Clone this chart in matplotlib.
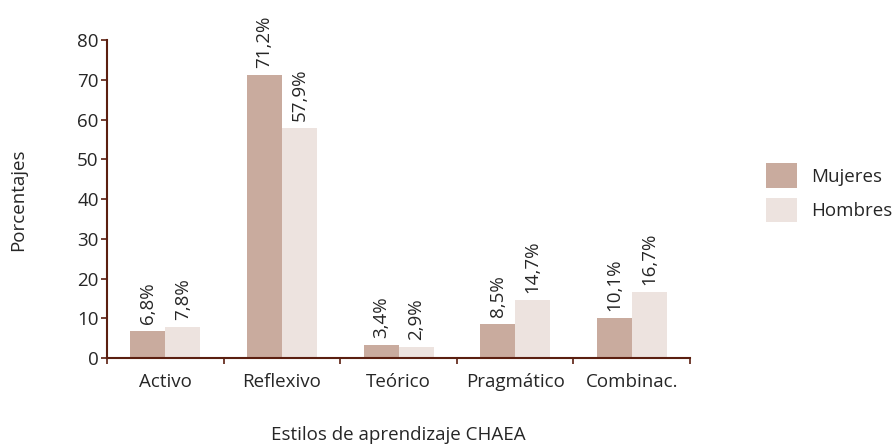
import matplotlib.pyplot as plt # get plot
import numpy as np # get arrays

plt.rcParams['font.family'] = ['Open Sans', 'DejaVu Sans']

categories = ['Activo', 'Reflexivo', 'Teórico', 'Pragmático', 'Combinac.']
mujeres = [6.8, 71.2, 3.4, 8.5, 10.1]
hombres = [7.8, 57.9, 2.9, 14.7, 16.7]
series_names = ['Mujeres', 'Hombres']
yticks = [0, 10, 20, 30, 40, 50, 60, 70, 80]

axis_color = '#5b1f10'
text_color = '#262626'
fs = 13.5

fig = plt.figure(figsize=(8.93, 4.47), dpi=100)
ax = fig.add_axes([0.1198, 0.199, 0.653, 0.7115])

x = np.arange(len(categories))
w = 0.3
b1 = ax.bar(x - w / 2, mujeres, w, color='#c9ab9e', label=series_names[0])
b2 = ax.bar(x + w / 2, hombres, w, color='#ede3df', label=series_names[1])

# value labels above bars, rotated
for bars, vals in ((b1, mujeres), (b2, hombres)):
    for r, v in zip(bars, vals):
        ax.annotate(f'{v:.1f}%'.replace('.', ','),
                    (r.get_x() + r.get_width() / 2, v),
                    xytext=(0, 5), textcoords='offset points',
                    rotation=90, ha='center', va='bottom',
                    fontsize=fs, color=text_color)

ax.set_xlim(-0.5, len(categories) - 0.5)
ax.set_ylim(0, 80)
ax.set_yticks(yticks)

# category names at centre, ticks between categories
ax.set_xticks(x)
ax.set_xticklabels(categories)
ax.tick_params(axis='x', which='major', length=0, pad=11,
               labelsize=fs, labelcolor=text_color)
ax.set_xticks(np.arange(len(categories) + 1) - 0.5, minor=True)
ax.tick_params(axis='x', which='minor', length=4, width=1.2,
               color=axis_color, direction='out')
ax.tick_params(axis='y', length=4, width=1.2, color=axis_color,
               labelsize=fs, labelcolor=text_color, pad=2)

for s in ['top', 'right']:
    ax.spines[s].set_visible(False)
for s in ['left', 'bottom']:
    ax.spines[s].set_color(axis_color)
    ax.spines[s].set_linewidth(1.5)

fig.text(0.02, 0.553, 'Porcentajes', rotation=90, ha='center', va='center',
         fontsize=fs, color=text_color)
fig.text(0.446, 0.027, 'Estilos de aprendizaje CHAEA', ha='center', va='center',
         fontsize=fs, color=text_color)

fig.legend(loc='center left', bbox_to_anchor=(0.839, 0.569), frameon=False,
           fontsize=fs, handlelength=1.65, handleheight=1.6, labelspacing=0.55,
           handletextpad=0.75, labelcolor=text_color)

fig.savefig('out.png', dpi=100)
